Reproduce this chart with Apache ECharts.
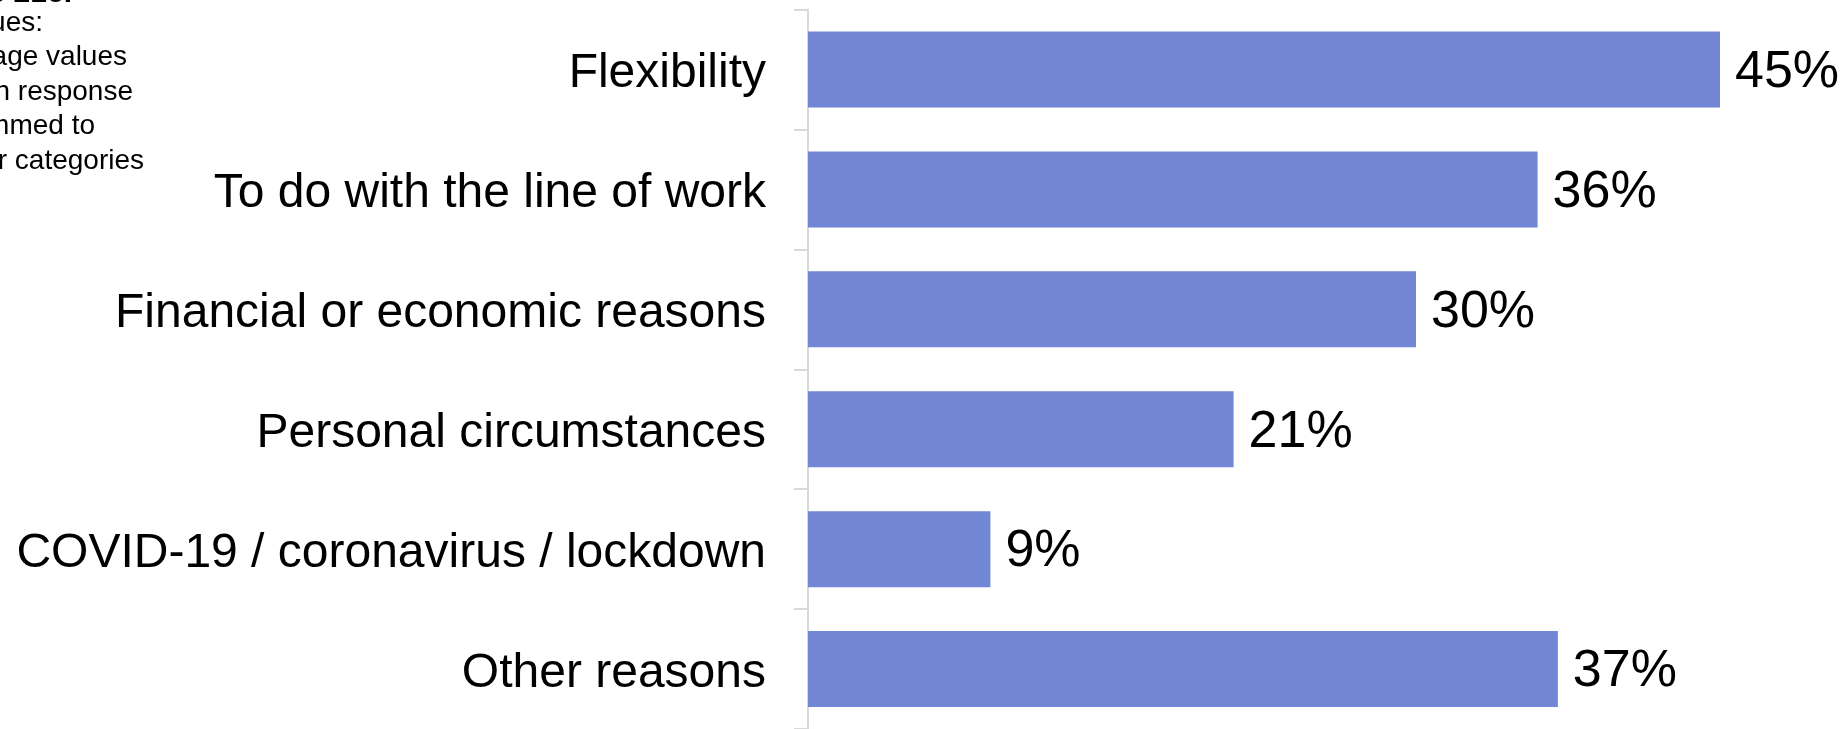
<!DOCTYPE html>
<html>
<head>
<meta charset="utf-8">
<style>
  html, body { margin: 0; padding: 0; background: #ffffff; }
  #chart { width: 1845px; height: 729px; }
</style>
<script src="https://cdn.jsdelivr.net/npm/echarts@6/dist/echarts.min.js"></script>
</head>
<body>
<div id="chart"></div>
<script>
// Reasons given, top to bottom
const categories = [
  'Flexibility',
  'To do with the line of work',
  'Financial or economic reasons',
  'Personal circumstances',
  'COVID-19 / coronavirus / lockdown',
  'Other reasons'
];
// Share of respondents naming each reason (%)
const values = [45, 36, 30, 21, 9, 37];

// Note block at the top-left edge
const noteTitle = 'Figure 21e.';
const noteLines = [
  'Values:',
  'Percentage values',
  'given in response',
  'summed to',
  'other categories'
];

const FONT = '"Liberation Sans", Arial, Helvetica, sans-serif';
const noteRight = [43, 127, 133, 95, 144];
const noteY = [23, 57, 92, 126, 161];

const graphics = [{
  type: 'text',
  x: 72, y: -6,
  style: {
    text: noteTitle,
    font: 'bold 30px ' + FONT,
    fill: '#000000',
    align: 'right',
    verticalAlign: 'middle'
  }
}].concat(noteLines.map((t, i) => ({
  type: 'text',
  x: noteRight[i], y: noteY[i],
  style: {
    text: t,
    font: '28px ' + FONT,
    fill: '#000000',
    align: 'right',
    verticalAlign: 'middle'
  }
})));

const chart = echarts.init(document.getElementById('chart'), null, { renderer: 'canvas' });
chart.setOption({
  animation: false,
  backgroundColor: '#ffffff',
  graphic: graphics,
  grid: { left: 808, top: 9.5, width: 912, height: 723, containLabel: false },
  xAxis: {
    type: 'value',
    min: 0,
    max: 45,
    show: false
  },
  yAxis: {
    type: 'category',
    data: categories,
    inverse: true,
    boundaryGap: true,
    axisLine: { show: true, lineStyle: { color: '#d9d9d9', width: 2 } },
    axisTick: { show: true, length: 14, lineStyle: { color: '#d9d9d9', width: 2 } },
    axisLabel: {
      margin: 42,
      formatter: v => '{c|' + v + '}',
      rich: {
        c: {
          padding: [9, 0, 0, 0],
          color: '#000000',
          fontFamily: FONT,
          fontSize: 48
        }
      }
    },
    splitLine: { show: false }
  },
  series: [{
    type: 'bar',
    data: values,
    barWidth: 76,
    itemStyle: { color: '#7186d4' },
    label: {
      show: true,
      position: 'right',
      distance: 15,
      offset: [0, 3],
      formatter: p => p.value + '%',
      color: '#000000',
      fontFamily: FONT,
      fontSize: 52
    }
  }]
});
</script>
</body>
</html>
